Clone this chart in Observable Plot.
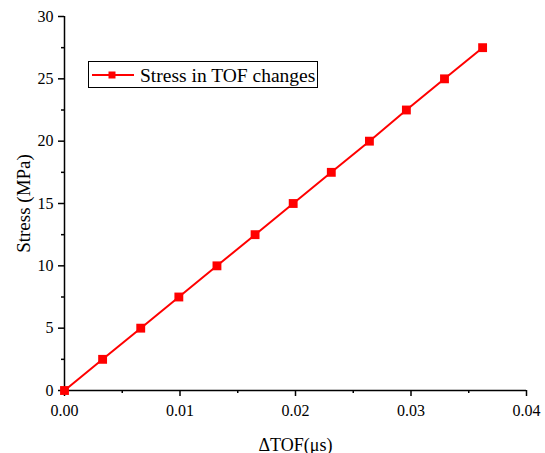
<!DOCTYPE html>
<html>
<head>
<meta charset="utf-8">
<script src="https://cdn.jsdelivr.net/npm/d3@7"></script>
<script src="https://cdn.jsdelivr.net/npm/@observablehq/plot@0.6"></script>
<style>
  body { margin: 0; background: #fff; }
</style>
</head>
<body>
<div id="chart"></div>
<script>
const tof = [0, 0.0033, 0.0066, 0.0099, 0.0132, 0.0165, 0.0198, 0.0231, 0.0264, 0.0296, 0.0329, 0.0362];
const stress = [0, 2.5, 5, 7.5, 10, 12.5, 15, 17.5, 20, 22.5, 25, 27.5];
const xTicks = [0, 0.01, 0.02, 0.03, 0.04];
const xMinor = [0.005, 0.015, 0.025, 0.035];
const yTicks = [0, 5, 10, 15, 20, 25, 30];
const yMinor = [2.5, 7.5, 12.5, 17.5, 22.5, 27.5];
const seriesName = "Stress in TOF changes";
const xLabel = "ΔTOF(μs)";
const yLabel = "Stress (MPa)";

const data = tof.map((x, i) => ({x, y: stress[i]}));
const font = "Liberation Serif, Times New Roman, serif";

const chart = Plot.plot({
  width: 545,
  height: 453,
  marginTop: 16,
  marginLeft: 64,
  marginRight: 19,
  marginBottom: 63,
  style: {background: "#fff", color: "#000", fontFamily: font},
  x: {domain: [0, 0.04]},
  y: {domain: [0, 30]},
  marks: [
    Plot.axisX({ticks: xTicks, tickSize: 6, tickPadding: 8, tickFormat: d3.format(".2f"), label: null, strokeWidth: 1.5, fontSize: 16}),
    Plot.axisX({ticks: xMinor, tickSize: 3, text: null, label: null, strokeWidth: 1.5}),
    Plot.axisY({ticks: yTicks, tickSize: 6, tickPadding: 5, label: null, strokeWidth: 1.5, fontSize: 16}),
    Plot.axisY({ticks: yMinor, tickSize: 3, text: null, label: null, strokeWidth: 1.5}),
    Plot.ruleY([0], {stroke: "#000", strokeWidth: 1.5}),
    Plot.ruleX([0], {stroke: "#000", strokeWidth: 1.5}),
    Plot.line(data, {x: "x", y: "y", stroke: "#ff0000", strokeWidth: 2}),
    Plot.dot(data, {x: "x", y: "y", symbol: "square", fill: "#ff0000", stroke: "none", r: 5}),
    Plot.text([xLabel], {frameAnchor: "bottom", dy: 60, fontSize: 18, fill: "#000"}),
    Plot.text([yLabel], {frameAnchor: "left", dx: -41, rotate: -90, textAnchor: "middle", fontSize: 19, fill: "#000"})
  ]
});

document.getElementById("chart").appendChild(chart);

// Legend inside the plot area
const svg = d3.select(chart);
const lg = svg.append("g").attr("class", "legend").attr("text-anchor", "start");
lg.append("rect").attr("x", 88.5).attr("y", 61.5).attr("width", 229).attr("height", 26)
  .attr("fill", "#fff").attr("stroke", "#000").attr("stroke-width", 1);
lg.append("line").attr("x1", 92).attr("x2", 134).attr("y1", 75).attr("y2", 75)
  .attr("stroke", "#ff0000").attr("stroke-width", 2);
lg.append("rect").attr("x", 108.5).attr("y", 71.5).attr("width", 7).attr("height", 7).attr("fill", "#ff0000");
lg.append("text").attr("x", 140).attr("y", 81.5).attr("text-anchor", "start")
  .attr("font-size", 19.5).attr("fill", "#000").text(seriesName);

svg.attr("font-family", font);
svg.selectAll("text").attr("font-family", font);
</script>
</body>
</html>
